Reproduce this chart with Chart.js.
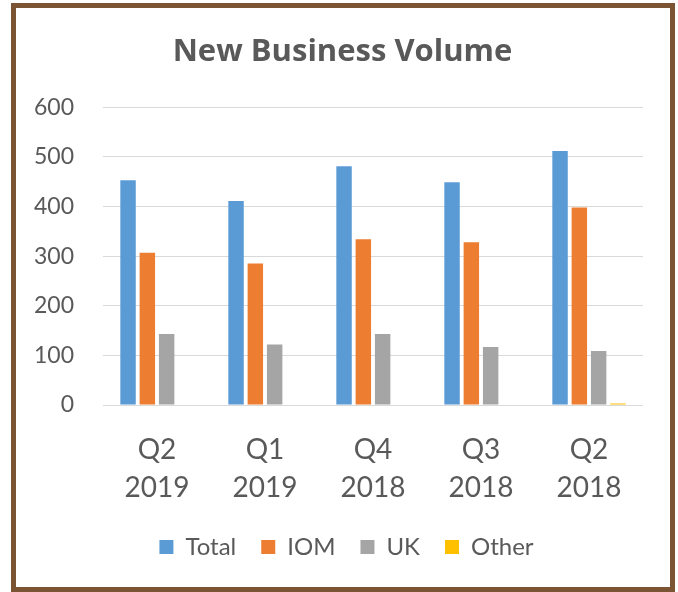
<!DOCTYPE html>
<html lang="en">
<head>
  <meta charset="UTF-8" />
  <title>New Business Volume</title>
  <script src="https://cdn.jsdelivr.net/npm/chart.js"></script>
  <style>
    * { margin: 0; padding: 0; box-sizing: border-box; }
    body { background: #fff; width: 678px; height: 592px; position: relative; overflow: hidden; }
    .marco {
      position: absolute;
      left: 11px; top: 3px;
      width: 664px; height: 589px;
      border: 5px solid #7B5533;
      background: #fff;
    }
    .marco canvas { display: block; }
  </style>
</head>
<body>
  <div class="marco">
    <canvas id="volumen" width="654" height="579"></canvas>
  </div>

  <script>
    // Datos
    const trimestres = [['Q2', '2019'], ['Q1', '2019'], ['Q4', '2018'], ['Q3', '2018'], ['Q2', '2018']];
    const total = [453, 411, 481, 449, 512];
    const iom = [307, 285, 334, 328, 398];
    const uk = [143, 122, 143, 117, 109];
    const otros = [0, 0, 0, 0, 3];
    const ejeY = [0, 100, 200, 300, 400, 500, 600];

    const gris = '#595959';
    const fuente = 'Lato, "Open Sans", sans-serif';

    // Título y leyenda se centran sobre todo el lienzo, no sobre el área sin el relleno derecho
    const centrarCajas = {
      id: 'centrarCajas',
      afterLayout(chart) {
        const t = chart.titleBlock;
        if (t) { t.left += 13; t.right += 13; }
        const ley = chart.legend;
        if (ley) { ley.left += 17; ley.right += 17; }
      }
    };

    const ctx = document.getElementById('volumen').getContext('2d');

    new Chart(ctx, {
      type: 'bar',
      data: {
        labels: trimestres,
        datasets: [
          { label: 'Total', data: total, backgroundColor: '#5B9BD5' },
          { label: 'IOM', data: iom, backgroundColor: '#ED7D31' },
          { label: 'UK', data: uk, backgroundColor: '#A5A5A5' },
          { label: 'Other', data: otros, backgroundColor: '#FFC000' }
        ]
      },
      plugins: [centrarCajas],
      options: {
        responsive: false,
        animation: false,
        datasets: {
          bar: { categoryPercentage: 0.715, barPercentage: 0.8 }
        },
        layout: { padding: { top: 0, left: 0, right: 27, bottom: 18 } },
        plugins: {
          title: {
            display: true,
            text: 'New Business Volume',
            color: gris,
            font: { family: '"Open Sans", Lato, sans-serif', size: 31, weight: 'bold', lineHeight: 1.2 },
            padding: { top: 26, bottom: 36 }
          },
          legend: {
            position: 'bottom',
            labels: {
              color: gris,
              font: { family: fuente, size: 24 },
              boxWidth: 14,
              boxHeight: 14,
              padding: 25
            }
          },
          tooltip: { enabled: false }
        },
        scales: {
          x: {
            grid: { display: false, drawTicks: false },
            border: { display: false },
            ticks: {
              color: gris,
              font: { family: fuente, size: 28, lineHeight: 1.36 },
              padding: 26,
              maxRotation: 0
            },
            afterFit: (s) => { s.height = 105; }
          },
          y: {
            min: 0,
            max: 600,
            afterBuildTicks: (s) => { s.ticks = ejeY.map(v => ({ value: v })); },
            grid: { color: '#D9D9D9', lineWidth: 1, drawTicks: false },
            border: { display: false },
            ticks: {
              color: gris,
              font: { family: fuente, size: 23 },
              padding: 29
            },
            afterFit: (s) => { s.width = 87; }
          }
        }
      }
    });
  </script>
</body>
</html>
